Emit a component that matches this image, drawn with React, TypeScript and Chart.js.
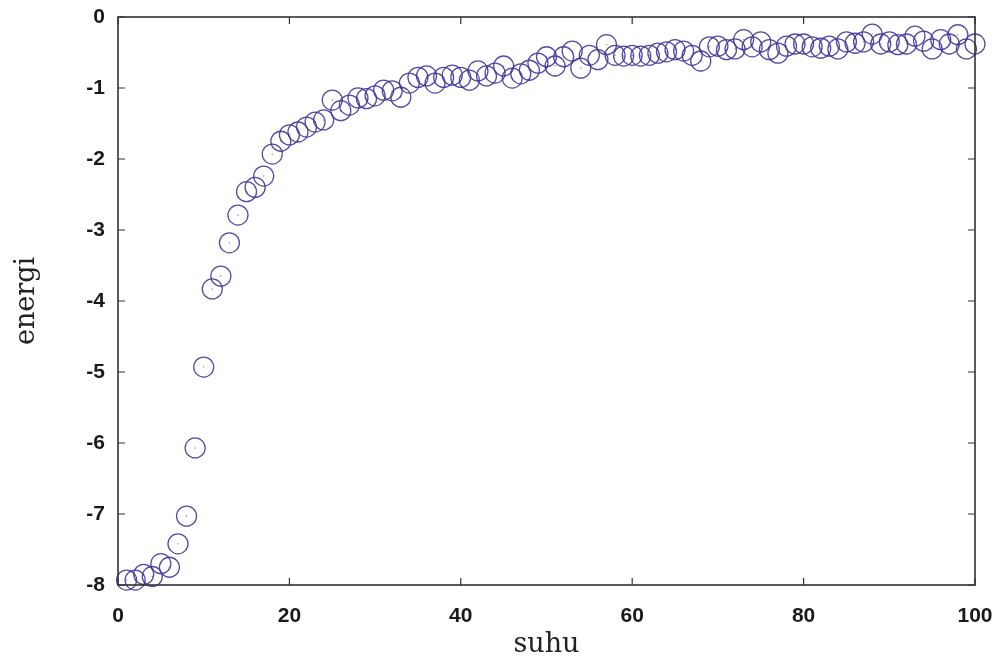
import React, { useEffect, useRef } from "react";
import { Chart, registerables } from "chart.js";

Chart.register(...registerables);

const suhu: number[] = [
  1, 2, 3, 4, 5, 6, 7, 8, 9, 10,
  11, 12, 13, 14, 15, 16, 17, 18, 19, 20,
  21, 22, 23, 24, 25, 26, 27, 28, 29, 30,
  31, 32, 33, 34, 35, 36, 37, 38, 39, 40,
  41, 42, 43, 44, 45, 46, 47, 48, 49, 50,
  51, 52, 53, 54, 55, 56, 57, 58, 59, 60,
  61, 62, 63, 64, 65, 66, 67, 68, 69, 70,
  71, 72, 73, 74, 75, 76, 77, 78, 79, 80,
  81, 82, 83, 84, 85, 86, 87, 88, 89, 90,
  91, 92, 93, 94, 95, 96, 97, 98, 99, 100,
];

const energi: number[] = [
  -7.93, -7.93, -7.85, -7.88, -7.7, -7.75, -7.42, -7.03, -6.07, -4.93,
  -3.83, -3.65, -3.18, -2.79, -2.46, -2.4, -2.24, -1.93, -1.75, -1.66,
  -1.62, -1.55, -1.48, -1.45, -1.17, -1.32, -1.24, -1.14, -1.15, -1.11,
  -1.03, -1.04, -1.13, -0.93, -0.85, -0.83, -0.93, -0.85, -0.82, -0.85,
  -0.89, -0.76, -0.83, -0.79, -0.69, -0.86, -0.8, -0.75, -0.65, -0.56,
  -0.69, -0.56, -0.48, -0.72, -0.54, -0.6, -0.39, -0.54, -0.55, -0.54,
  -0.55, -0.54, -0.51, -0.49, -0.46, -0.48, -0.54, -0.62, -0.42, -0.41,
  -0.46, -0.45, -0.32, -0.42, -0.35, -0.46, -0.51, -0.41, -0.38, -0.38,
  -0.42, -0.44, -0.41, -0.45, -0.35, -0.37, -0.35, -0.24, -0.38, -0.35,
  -0.39, -0.38, -0.27, -0.34, -0.45, -0.32, -0.38, -0.25, -0.45, -0.38,
];

const xTicks: number[] = [0, 20, 40, 60, 80, 100];
const yTicks: number[] = [-8, -7, -6, -5, -4, -3, -2, -1, 0];

const xTitle = "suhu";
const yTitle = "energi";

const framePlugin = {
  id: "matlabFrame",
  afterDatasetsDraw(chart: any) {
    const { ctx, chartArea } = chart;
    const { left, right, top, bottom } = chartArea;
    const xs = chart.scales.x;
    const ys = chart.scales.y;
    const len = 7;
    ctx.save();
    ctx.strokeStyle = "#333333";
    ctx.lineWidth = 1.6;
    ctx.strokeRect(left, top, right - left, bottom - top);
    ctx.lineWidth = 1.2;
    ctx.beginPath();
    xTicks.forEach((v) => {
      const px = xs.getPixelForValue(v);
      ctx.moveTo(px, bottom);
      ctx.lineTo(px, bottom - len);
      ctx.moveTo(px, top);
      ctx.lineTo(px, top + len);
    });
    yTicks.forEach((v) => {
      const py = ys.getPixelForValue(v);
      ctx.moveTo(left, py);
      ctx.lineTo(left + len, py);
      ctx.moveTo(right, py);
      ctx.lineTo(right - len, py);
    });
    ctx.stroke();
    ctx.restore();
  },
};

export default function App() {
  const ref = useRef<HTMLCanvasElement | null>(null);

  useEffect(() => {
    if (!ref.current) return;
    const points = suhu.map((x, i) => ({ x, y: energi[i] }));
    const chart = new Chart(ref.current, {
      type: "scatter",
      data: {
        datasets: [
          {
            data: points,
            pointStyle: "circle",
            pointRadius: 10,
            pointHoverRadius: 10,
            pointBorderWidth: 1.3,
            borderColor: "rgba(62, 52, 152, 0.88)",
            backgroundColor: "rgba(0,0,0,0)",
            clip: false as any,
          },
          {
            data: points,
            pointStyle: "circle",
            pointRadius: 0.8,
            pointBorderWidth: 0,
            borderColor: "rgba(0,0,0,0)",
            backgroundColor: "rgba(80, 70, 150, 0.6)",
            clip: false as any,
          },
        ],
      },
      options: {
        responsive: false,
        animation: false,
        layout: { padding: { left: 0, right: 27, top: 17, bottom: 0 } },
        plugins: {
          legend: { display: false },
          tooltip: { enabled: false },
        },
        scales: {
          x: {
            type: "linear",
            min: 0,
            max: 100,
            afterBuildTicks: (scale: any) => {
              scale.ticks = xTicks.map((v) => ({ value: v }));
            },
            afterFit: (scale: any) => {
              scale.height = 78;
              scale.paddingLeft = 0;
              scale.paddingRight = 0;
            },
            grid: { display: false, drawTicks: false },
            border: { display: false },
            ticks: {
              padding: 19,
              color: "#1a1a1a",
              font: { family: "'Liberation Sans', Arial, sans-serif", size: 21, weight: "bold" },
              maxRotation: 0,
            },
            title: {
              display: true,
              text: xTitle,
              color: "#222222",
              font: { family: "'DejaVu Serif', serif", size: 27, weight: "normal" },
              padding: { top: 0, bottom: 2 },
            },
          },
          y: {
            type: "linear",
            min: -8,
            max: 0,
            afterBuildTicks: (scale: any) => {
              scale.ticks = yTicks.map((v) => ({ value: v }));
            },
            afterFit: (scale: any) => {
              scale.width = 118;
              scale.paddingTop = 0;
              scale.paddingBottom = 0;
            },
            grid: { display: false, drawTicks: false },
            border: { display: false },
            ticks: {
              padding: 13,
              color: "#1a1a1a",
              font: { family: "'Liberation Sans', Arial, sans-serif", size: 21, weight: "bold" },
            },
            title: {
              display: true,
              text: yTitle,
              color: "#222222",
              font: { family: "'DejaVu Serif', serif", size: 27, weight: "normal" },
              padding: { top: 11, bottom: 0 },
            },
          },
        },
      },
      plugins: [framePlugin],
    });
    return () => chart.destroy();
  }, []);

  return (
    <div style={{ position: "absolute", left: 0, top: 0, width: 1002, height: 663, background: "#ffffff" }}>
      <canvas ref={ref} width={1002} height={663} style={{ display: "block" }} />
    </div>
  );
}
